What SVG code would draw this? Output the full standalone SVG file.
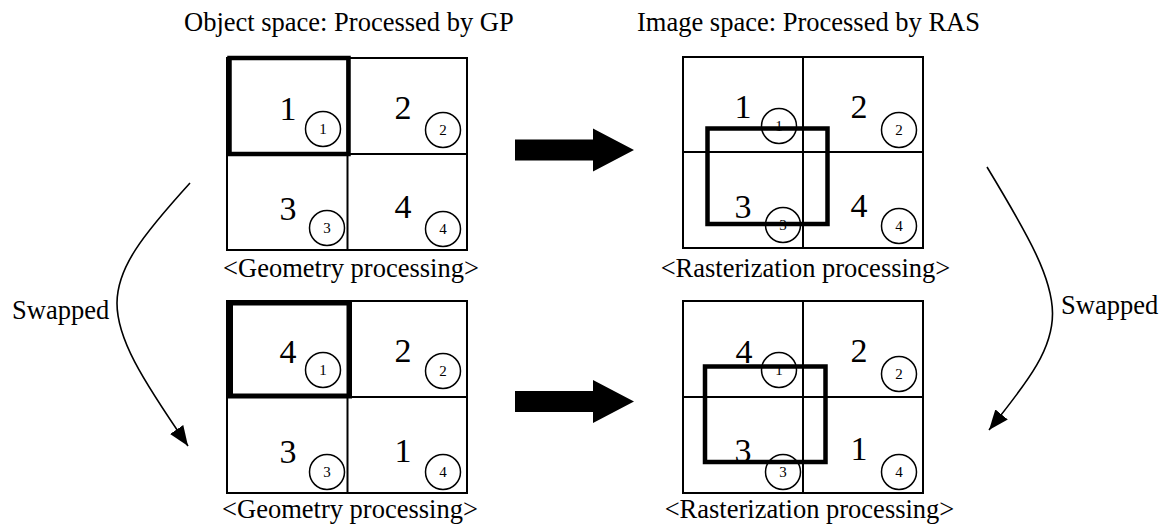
<svg xmlns="http://www.w3.org/2000/svg" width="1169" height="529" viewBox="0 0 1169 529">
<style>
text{font-family:"Liberation Serif","Times New Roman",serif;fill:#000}
.lbl{font-size:26.5px}
.mid{text-anchor:middle}
.num{font-size:34px;text-anchor:middle}
.cn{font-size:15px;text-anchor:middle}
.grid{fill:none;stroke:#000;stroke-width:2}
.bold{fill:none;stroke:#000;stroke-width:4.5}
.circ{fill:none;stroke:#000;stroke-width:1.5}
.curve{fill:none;stroke:#000;stroke-width:1.6}
.block{fill:#000}
</style>
<defs>
<marker id="ah" markerUnits="userSpaceOnUse" markerWidth="22" markerHeight="16" refX="20" refY="8" orient="auto">
<path d="M0,0 L20,8 L0,16 z" fill="#000"/>
</marker>
</defs>
<rect width="1169" height="529" fill="#fff"/>
<g id="titles">
<text class="lbl" x="184" y="31">Object space: Processed by GP</text>
<text class="lbl" x="637" y="31">Image space: Processed by RAS</text>
</g>
<g id="geom-top">
<rect class="grid" x="227" y="58" width="240" height="192"/>
<line class="grid" x1="347.5" y1="58" x2="347.5" y2="250"/>
<line class="grid" x1="227" y1="154" x2="467" y2="154"/>
<text class="num" x="288" y="120">1</text>
<text class="num" x="403" y="119">2</text>
<text class="num" x="288" y="220">3</text>
<text class="num" x="403" y="218">4</text>
<circle class="circ" cx="323" cy="129" r="17.5"/><text class="cn" x="323" y="134">1</text>
<circle class="circ" cx="443" cy="130" r="17.5"/><text class="cn" x="443" y="135">2</text>
<circle class="circ" cx="327" cy="228" r="17.5"/><text class="cn" x="327" y="233">3</text>
<circle class="circ" cx="443" cy="229" r="17.5"/><text class="cn" x="443" y="234">4</text>
<rect class="bold" x="229.5" y="58" width="119" height="96"/>
<text class="lbl mid" x="351" y="277">&lt;Geometry processing&gt;</text>
</g>
<g id="raster-top">
<rect class="grid" x="683" y="57" width="240" height="191"/>
<line class="grid" x1="803" y1="57" x2="803" y2="248"/>
<line class="grid" x1="683" y1="152" x2="923" y2="152"/>
<text class="num" x="743" y="118">1</text>
<text class="num" x="859" y="118">2</text>
<text class="num" x="743" y="218">3</text>
<text class="num" x="859" y="217">4</text>
<circle class="circ" cx="779" cy="126" r="17.5"/><text class="cn" x="779" y="131">1</text>
<circle class="circ" cx="899" cy="130" r="17.5"/><text class="cn" x="899" y="135">2</text>
<circle class="circ" cx="783" cy="225" r="17.5"/><text class="cn" x="783" y="230">3</text>
<circle class="circ" cx="899" cy="226" r="17.5"/><text class="cn" x="899" y="231">4</text>
<rect class="bold" x="707.5" y="128.5" width="120" height="95.5"/>
<text class="lbl mid" x="805.5" y="277">&lt;Rasterization processing&gt;</text>
</g>
<g id="geom-bottom">
<rect class="grid" x="227" y="301" width="240" height="192"/>
<line class="grid" x1="347.5" y1="301" x2="347.5" y2="493"/>
<line class="grid" x1="227" y1="397" x2="467" y2="397"/>
<text class="num" x="288" y="363">4</text>
<text class="num" x="403" y="362">2</text>
<text class="num" x="288" y="463">3</text>
<text class="num" x="403" y="462">1</text>
<circle class="circ" cx="323" cy="370" r="17.5"/><text class="cn" x="323" y="375">1</text>
<circle class="circ" cx="443" cy="371" r="17.5"/><text class="cn" x="443" y="376">2</text>
<circle class="circ" cx="327" cy="472" r="17.5"/><text class="cn" x="327" y="477">3</text>
<circle class="circ" cx="443" cy="472" r="17.5"/><text class="cn" x="443" y="477">4</text>
<rect class="bold" x="230.5" y="303" width="119" height="93" style="stroke-width:5"/>
<text class="lbl mid" x="350" y="518">&lt;Geometry processing&gt;</text>
</g>
<g id="raster-bottom">
<rect class="grid" x="683" y="301" width="240" height="192"/>
<line class="grid" x1="803" y1="301" x2="803" y2="493"/>
<line class="grid" x1="683" y1="397" x2="923" y2="397"/>
<text class="num" x="744" y="363">4</text>
<text class="num" x="859" y="362">2</text>
<text class="num" x="743" y="462">3</text>
<text class="num" x="859" y="460">1</text>
<circle class="circ" cx="779" cy="370" r="17.5"/><text class="cn" x="779" y="375">1</text>
<circle class="circ" cx="899" cy="374" r="17.5"/><text class="cn" x="899" y="379">2</text>
<circle class="circ" cx="783" cy="472" r="17.5"/><text class="cn" x="783" y="477">3</text>
<circle class="circ" cx="899" cy="472" r="17.5"/><text class="cn" x="899" y="477">4</text>
<rect class="bold" x="705" y="366.5" width="120.5" height="95.5"/>
<text class="lbl mid" x="809.5" y="518">&lt;Rasterization processing&gt;</text>
</g>
<g id="connectors">
<polygon class="block" points="515,139.5 593,139.5 593,128.5 634,150 593,171.5 593,160.5 515,160.5"/>
<polygon class="block" points="515,391 593,391 593,380 634,401.5 593,423 593,412 515,412"/>
<path class="curve" d="M190,183 C93,290 93,308 188,446" marker-end="url(#ah)"/>
<path class="curve" d="M987,167 C1074,311 1074,325 989,430" marker-end="url(#ah)"/>
<text class="lbl" x="12" y="319">Swapped</text>
<text class="lbl" x="1061" y="314">Swapped</text>
</g>
</svg>
